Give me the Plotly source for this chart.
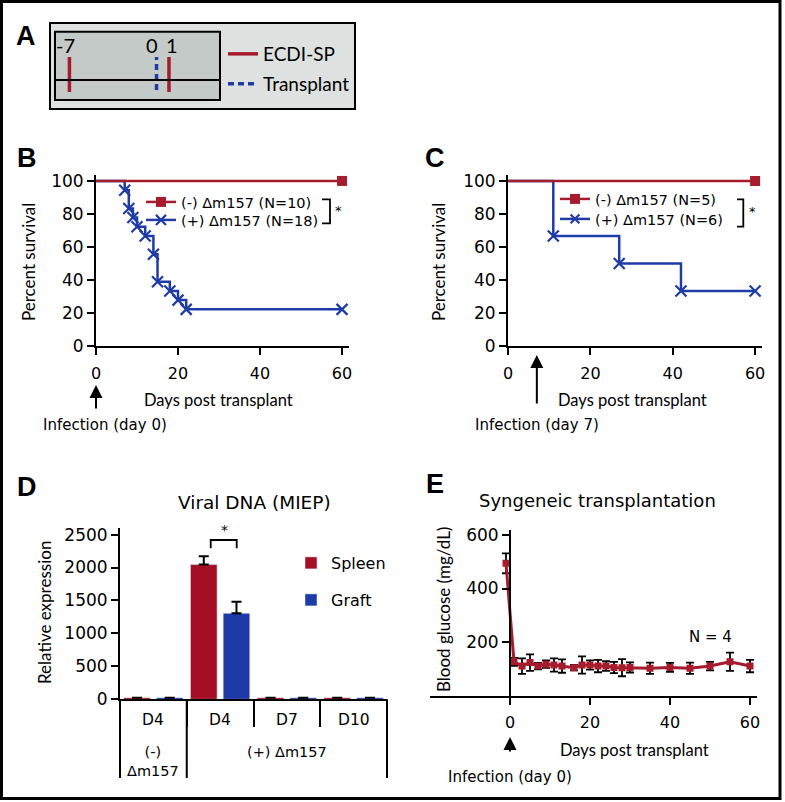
import plotly.graph_objects as go

W, H = 785, 802
def fx(p): return p / W
def fy(p): return 1 - p / H

RED = "#a51d2d"
BLUE = "#1f3ca6"
SANS = "DejaVu Sans"
NARROW = "Lato, Roboto, Liberation Sans, sans-serif"
BOLD = "Liberation Sans, Arial, sans-serif"

# ---------------- data ----------------
# Panel A (timeline schematic)
ecdi_days = [-7, 1]
transplant_day = [0]
timeline_days = [-7, 0, 1]

# Panel B survival
b_neg_days = [0, 60]
b_neg_surv = [100, 100]
b_pos_days = [0, 7, 8, 9, 10, 12, 14, 15, 18, 20, 22, 60]
b_pos_surv = [100, 94.4, 83.3, 77.8, 72.2, 66.7, 55.6, 38.9, 33.3, 27.8, 22.2, 22.2]

# Panel C survival
c_neg_days = [0, 60]
c_neg_surv = [100, 100]
c_pos_days = [0, 11, 27, 42, 60]
c_pos_surv = [100, 66.7, 50, 33.3, 33.3]

# Panel D viral DNA
d_groups = ["(-)<br>Δm157", "(+) Δm157", "(+) Δm157", "(+) Δm157"]
d_days = ["D4", "D4", "D7", "D10"]
d_spleen = [25, 2045, 25, 25]
d_spleen_err = [None, 125, None, None]
d_graft = [25, 1305, 25, 25]
d_graft_err = [None, 175, None, None]

# Panel E blood glucose
e_days = [-1, 1, 3, 5, 7, 9, 11, 13, 16, 18, 20, 22, 24, 26, 28, 30, 35, 40, 45, 50, 55, 60]
e_glucose = [494, 126, 110, 123, 110, 117, 114, 110, 104, 114, 114, 110, 110, 105, 104, 105, 102, 105, 102, 110, 126, 110]
e_err = [37, 15, 29, 31, 12, 14, 25, 25, 10, 32, 17, 23, 18, 21, 32, 19, 21, 17, 21, 16, 34, 23]

fig = go.Figure()

# ---------------- Panel A ----------------
ax_x, ax_y = [], []
for d in ecdi_days:
    ax_x += [d, d, None]
    ax_y += [0.118, 0.632, None]
fig.add_trace(go.Scatter(x=ax_x, y=ax_y, mode="lines", name="ECDI-SP",
                         line=dict(color=RED, width=3.5), xaxis="x", yaxis="y", legend="legend7"))
tx, ty = [], []
for d in transplant_day:
    tx += [d, d, None]
    ty += [0.147, 0.632, None]
fig.add_trace(go.Scatter(x=tx, y=ty, mode="lines", name="Transplant",
                         line=dict(color=BLUE, width=3.5, dash="6px,4px"), xaxis="x", yaxis="y",
                         legend="legend8"))

# ---------------- Panel B ----------------
fig.add_trace(go.Scatter(x=b_pos_days, y=b_pos_surv, mode="lines+markers", line_shape="hv",
                         name="(+) Δm157 (N=18)", line=dict(color=BLUE, width=2.5),
                         marker=dict(symbol="x-thin", size=[0] + [11] * (len(b_pos_days) - 1),
                                     line=dict(color=BLUE, width=2.2), opacity=1),
                         xaxis="x2", yaxis="y2", legend="legend2"))
fig.add_trace(go.Scatter(x=b_neg_days, y=b_neg_surv, mode="lines", line=dict(color=RED, width=2.5),
                         xaxis="x2", yaxis="y2", showlegend=False))
fig.add_trace(go.Scatter(x=b_neg_days[-1:], y=b_neg_surv[-1:], mode="lines+markers",
                         name="(-) Δm157 (N=10)", line=dict(color=RED, width=2.5),
                         marker=dict(symbol="square", size=10, color=RED, opacity=1),
                         xaxis="x2", yaxis="y2", legend="legend"))

# ---------------- Panel C ----------------
fig.add_trace(go.Scatter(x=c_pos_days, y=c_pos_surv, mode="lines+markers", line_shape="hv",
                         name="(+) Δm157 (N=6)", line=dict(color=BLUE, width=2.5),
                         marker=dict(symbol="x-thin", size=[0] + [11] * (len(c_pos_days) - 1),
                                     line=dict(color=BLUE, width=2.2), opacity=1),
                         xaxis="x3", yaxis="y3", legend="legend4"))
fig.add_trace(go.Scatter(x=c_neg_days, y=c_neg_surv, mode="lines", line=dict(color=RED, width=2.5),
                         xaxis="x3", yaxis="y3", showlegend=False))
fig.add_trace(go.Scatter(x=c_neg_days[-1:], y=c_neg_surv[-1:], mode="lines+markers",
                         name="(-) Δm157 (N=5)", line=dict(color=RED, width=2.5),
                         marker=dict(symbol="square", size=10, color=RED, opacity=1),
                         xaxis="x3", yaxis="y3", legend="legend3"))

# ---------------- Panel D ----------------
fig.add_trace(go.Bar(x=[d_groups, d_days], y=d_spleen, name="Spleen", marker_color="#a50f25",
                     error_y=dict(type="data", array=d_spleen_err,
                                  arrayminus=[0 if v else None for v in d_spleen_err],
                                  symmetric=False, color="black", thickness=2, width=5),
                     xaxis="x4", yaxis="y4", legend="legend5"))
fig.add_trace(go.Bar(x=[d_groups, d_days], y=d_graft, name="Graft", marker_color="#1d3aa8",
                     error_y=dict(type="data", array=d_graft_err,
                                  arrayminus=[0 if v else None for v in d_graft_err],
                                  symmetric=False, color="black", thickness=2, width=5),
                     xaxis="x4", yaxis="y4", legend="legend6"))

# ---------------- Panel E ----------------
fig.add_trace(go.Scatter(x=e_days, y=e_glucose, mode="lines+markers",
                         line=dict(color=RED, width=3), marker=dict(symbol="square", size=7, color=RED),
                         error_y=dict(type="data", array=e_err, color="black", thickness=1.8, width=4),
                         xaxis="x5", yaxis="y5", showlegend=False))


def ax_style(**kw):
    d = dict(showline=True, linecolor="black", linewidth=2, ticks="outside", ticklen=7,
             tickwidth=2, tickcolor="black", showgrid=False, zeroline=False, automargin=False,
             tickfont=dict(family=SANS, size=16, color="black"), fixedrange=True)
    d.update(kw)
    return d

yt = dict(family=SANS, size=17, color="black")

def leg(x, y, size=14.5, family=SANS):
    return dict(x=fx(x), y=fy(y), xanchor="left", yanchor="middle", bgcolor="rgba(0,0,0,0)",
                borderwidth=0, font=dict(family=family, size=size, color="black"))

D_L, D_R = 120, 387
fig.update_layout(
    width=W, height=H, margin=dict(l=0, r=0, t=0, b=0, pad=0, autoexpand=False),
    paper_bgcolor="white", plot_bgcolor="rgba(0,0,0,0)",
    barmode="group", bargap=0.02, bargroupgap=0.187,
    xaxis=dict(domain=[fx(55), fx(220)], range=[-8.16, 5.1], visible=False, anchor="y", automargin=False),
    yaxis=dict(domain=[fy(100), fy(32)], range=[0, 1], visible=False, anchor="x", automargin=False),
    xaxis2=ax_style(domain=[fx(96), fx(349)], range=[0, 61.7], anchor="y2", tickvals=[0, 20, 40, 60],
                    ticklabelstandoff=5),
    yaxis2=ax_style(domain=[fy(346), fy(175)], range=[0, 103.6], anchor="x2",
                    tickvals=[0, 20, 40, 60, 80, 100], tickfont=yt),
    xaxis3=ax_style(domain=[fx(508), fx(761.7)], range=[0, 61.6], anchor="y3", tickvals=[0, 20, 40, 60],
                    ticklabelstandoff=5),
    yaxis3=ax_style(domain=[fy(346), fy(175)], range=[0, 103.6], anchor="x3",
                    tickvals=[0, 20, 40, 60, 80, 100], tickfont=yt),
    xaxis4=ax_style(domain=[fx(D_L), fx(D_R)], type="multicategory", anchor="y4",
                    ticklen=26, tickson="boundaries", showticklabels=False, showdividers=False),
    yaxis4=ax_style(domain=[fy(699.3), fy(528)], range=[0, 2600], anchor="x4",
                    tickvals=[0, 500, 1000, 1500, 2000, 2500], tickfont=yt),
    xaxis5=ax_style(domain=[fx(430), fx(757)], range=[-20, 61.75], anchor="y5", tickvals=[0, 20, 40, 60],
                    ticklabelstandoff=4),
    yaxis5=ax_style(domain=[fy(695.5), fy(530)], range=[0, 618.7], anchor="free", position=fx(510),
                    tickvals=[200, 400, 600], tickfont=yt),
    legend=leg(141, 202), legend2=leg(141, 220),
    legend3=leg(555, 199), legend4=leg(555, 219),
    legend5=leg(291, 563, size=16), legend6=leg(291, 600, size=16),
    legend7=leg(223, 54, size=19, family=NARROW), legend8=leg(223, 84, size=19, family=NARROW),
)

shapes = []
def rect(x0, y0, x1, y1, fill=None, width=2, layer="below"):
    shapes.append(dict(type="rect", xref="paper", yref="paper", x0=fx(x0), x1=fx(x1), y0=fy(y1), y1=fy(y0),
                       line=dict(color="black", width=width), fillcolor=fill or "rgba(0,0,0,0)", layer=layer))
def path(pts, width=2):
    d = "M " + " L ".join(f"{fx(a):.5f},{fy(b):.5f}" for a, b in pts)
    shapes.append(dict(type="path", xref="paper", yref="paper", path=d,
                       line=dict(color="black", width=width), layer="above"))

rect(1.5, 1.5, 780, 798.5, width=3, layer="above")
rect(50, 23, 355, 109, fill="#dde2e1")
rect(55, 31.7, 220, 100, fill="#c4cac8")
path([(55, 80), (220, 80)])
# significance brackets
path([(322, 199.3), (330, 199.3), (330, 223.3), (322, 223.3)], width=1.8)
path([(737, 199.3), (743.3, 199.3), (743.3, 226.7), (737, 226.7)], width=1.8)
path([(210.7, 548.3), (210.7, 540), (236.7, 540), (236.7, 548.3)], width=1.8)

# Panel D category dividers / labels derived from the category layout
n_cat = len(d_days)
cat_w = (D_R - D_L) / n_cat
def cat_px(i): return D_L + (i + 0.5) * cat_w
group_bounds = [0]
for i in range(1, n_cat):
    if d_groups[i] != d_groups[i - 1]:
        group_bounds.append(i)
group_bounds.append(n_cat)
for b in group_bounds:
    path([(D_L + b * cat_w, 699.3), (D_L + b * cat_w, 778)], width=2)
fig.update_layout(shapes=shapes)

ann = []
def txt(x, y, s, size=15, family=SANS, angle=0, bold=False, anchor="center"):
    ann.append(dict(xref="paper", yref="paper", x=fx(x), y=fy(y), text=f"<b>{s}</b>" if bold else s,
                    showarrow=False, xanchor=anchor, yanchor="middle", textangle=angle,
                    font=dict(family=family, size=size, color="black")))

# Panel D tick labels
for i, lab in enumerate(d_days):
    txt(cat_px(i), 720, lab, size=15.5)
for a, b in zip(group_bounds[:-1], group_bounds[1:]):
    ann.append(dict(xref="paper", yref="paper", x=fx((cat_px(a) + cat_px(b - 1)) / 2), y=fy(742),
                    text=d_groups[a], showarrow=False, xanchor="center", yanchor="top",
                    font=dict(family=SANS, size=14.5, color="black")))

# Panel A day labels
for d, xs in zip(timeline_days, [-4, -4.5, 3]):
    ann.append(dict(xref="x", yref="y", x=d, y=0.81, text=str(d), showarrow=False, xshift=xs,
                    font=dict(family=NARROW, size=20, color="black")))

for lab, (x, y) in {"A": (26, 36), "B": (27, 158), "C": (435, 158), "D": (27, 487), "E": (435, 484)}.items():
    txt(x, y, lab, size=27, family=BOLD, bold=True)
txt(28, 262, "Percent survival", size=17, family=NARROW, angle=-90)
txt(438, 262, "Percent survival", size=17, family=NARROW, angle=-90)
txt(218, 400, "Days post transplant", size=16.5, family=NARROW)
txt(632, 400, "Days post transplant", size=16.5, family=NARROW)
txt(105, 425, "Infection (day 0)")
txt(536.5, 425, "Infection (day 7)")
txt(254, 502, "Viral DNA (MIEP)", size=18.5)
txt(44, 613, "Relative expression", size=17, family=NARROW, angle=-90)
txt(597, 500, "Syngeneic transplantation", size=18)
txt(443, 610, "Blood glucose (mg/dL)", size=17, family=NARROW, angle=-90)
txt(634, 750, "Days post transplant", size=16.5, family=NARROW)
txt(510, 777, "Infection (day 0)")
txt(710, 637, "N = 4", size=15)
txt(338, 210, "*", size=13)
txt(752, 211, "*", size=13)
txt(224, 530, "*", size=14)

def arrow(xref, x, head, tail):
    ann.append(dict(xref=xref, yref="paper", x=x, y=fy(head), ax=0, ay=tail - head, axref="pixel",
                    ayref="pixel", text="", showarrow=True, arrowhead=2, arrowsize=1.3,
                    arrowwidth=2, arrowcolor="black"))
arrow("x2", 0, 385, 410)
arrow("x3", 7, 355, 405)
arrow("x5", 0, 737, 753)
fig.update_layout(annotations=ann)

fig.write_html(
    "out.html",
    config={"displayModeBar": False},
    post_script=("document.documentElement.style.overflow='hidden';"
                 "document.body.style.margin='0';document.body.style.overflow='hidden';"),
)
